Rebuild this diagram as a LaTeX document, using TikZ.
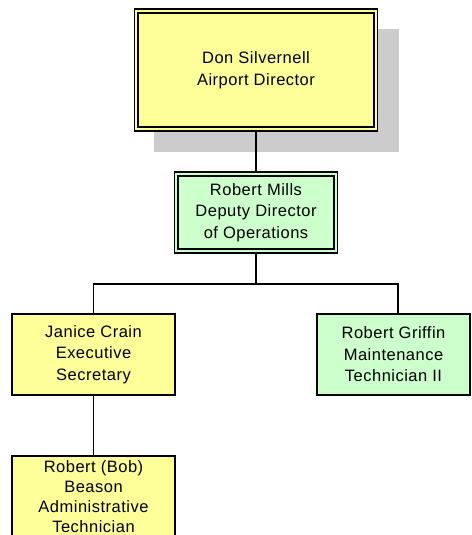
\documentclass[tikz,border=0pt]{standalone}
\usepackage{fontspec}
\setmainfont{Liberation Sans}[LetterSpace=3]
\usetikzlibrary{calc}
\definecolor{boxyellow}{HTML}{FFFF99}
\definecolor{boxgreen}{HTML}{CCFFCC}
\definecolor{shadowgray}{HTML}{CCCCCC}
\tikzset{
  base/.style={rectangle, inner sep=0pt, align=center, text=black,
    font=\fontsize{16.5}{21.5}\selectfont},
  dblbox/.style={base, draw=black, line width=1.4pt, double distance=2.4pt},
  sglbox/.style={base, draw=black, line width=1.7pt},
  conn/.style={draw=black, line width=1.7pt}
}
\begin{document}
\begin{tikzpicture}[x=1pt,y=-1pt]
\useasboundingbox (0,0) rectangle (471,535);
\begin{scope}
\clip (0,0) rectangle (471,535);
% shadow
\fill[shadowgray] (154,29) rectangle (399,152);
% connectors behind boxes
\coordinate (dirc) at (256,70);
\coordinate (depc) at (256,212.5);
% nodes
\node[dblbox, fill=boxyellow, double=boxyellow, minimum width=239.5pt, minimum height=118pt] (dir) at (dirc) {Don Silvernell\\Airport Director};
\node[dblbox, fill=boxgreen, double=boxgreen, minimum width=159.5pt, minimum height=77pt] (dep) at (depc) {Robert Mills\\Deputy Director\\of Operations};
\node[sglbox, fill=boxyellow, minimum width=163pt, minimum height=81pt] (jan) at (93.5,354.5) {Janice Crain\\Executive\\Secretary};
\node[sglbox, fill=boxgreen, minimum width=153pt, minimum height=81pt] (grf) at (393.5,354.5) {Robert Griffin\\Maintenance\\Technician II};
\node[sglbox, fill=boxyellow, minimum width=163pt, minimum height=82pt, font=\fontsize{16.5}{20}\selectfont] (bob) at (93.5,497) {Robert (Bob)\\Beason\\Administrative\\Technician};
% connectors
\draw[conn] (dir.south) -- (dep.north);
\draw[conn] (dep.south) -- ++(0,32) coordinate (bus);
\coordinate (grftop) at ($(grf.north)+(4.5,0)$);
\draw[conn] (jan.north) |- (bus) -| (grftop);
\draw[conn] (jan.south) -- (bob.north);
\end{scope}
\end{tikzpicture}
\end{document}
